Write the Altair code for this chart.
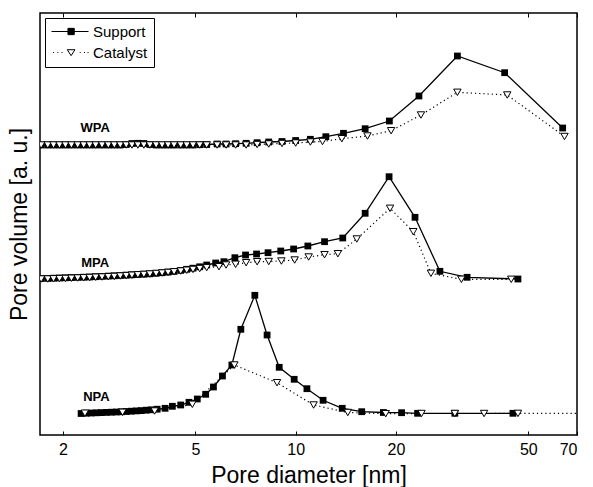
import altair as alt
import pandas as pd

# ---------------- data (pore diameter in nm, pore volume in a.u.) ----------------
dense_d = [1.72, 1.80, 1.873, 1.952, 2.034, 2.12, 2.214, 2.308, 2.405, 2.507,
           2.62, 2.736, 2.852, 2.972, 3.097, 3.222, 3.357, 3.499, 3.648, 3.809,
           3.97, 4.138, 4.312, 4.516, 4.707, 4.916, 5.149, 5.404]

wpa_sup_d = dense_d + [5.81, 6.18, 6.60, 7.10, 7.66, 8.30, 9.10, 10.0, 11.07, 12.32,
                       13.92, 16.17, 19.12, 23.46, 30.61, 42.44, 63.4]
wpa_sup_v = [290, 290, 290, 290, 290, 290, 290, 290, 290, 290,
             290, 290, 290, 290, 290.5, 291.5, 291.7, 291.5, 290.5, 290,
             290, 290, 290, 290, 290, 290, 290.3, 290.5,
             291, 291, 291.3, 291.7, 292.3, 293, 293.5, 294.5, 295.7, 298.3,
             301.7, 306.3, 314, 339, 379, 362.3, 307]

wpa_cat_d = dense_d + [5.81, 6.18, 6.60, 7.10, 7.66, 8.30, 9.10, 10.0, 11.07, 12.04,
                       13.76, 16.43, 19.35, 23.79, 30.61, 43.21, 64.2]
wpa_cat_v = [290] * 28 + [290, 290, 290, 290, 290.5, 291, 291.5, 292, 293, 293.5,
                          296.3, 299, 304.3, 320, 342.7, 340, 298.5]

mpa_sup_d = dense_d + [5.75, 6.088, 6.568, 7.07, 7.63, 8.26, 9.02, 9.86, 10.88, 12.21,
                       13.85, 16.17, 19.08, 22.83, 27.12, 32.73, 46.53]
mpa_sup_v = [156.5, 156.6, 156.8, 157, 157.2, 157.4, 157.6, 157.8, 158, 158.3,
             158.6, 158.9, 159.2, 159.5, 159.8, 160.2, 160.5, 160.8, 161.2, 161.7,
             162.3, 162.9, 163.6, 164.6, 165.7, 166.8, 168.2, 170,
             172, 173.3, 177.3, 180, 181, 182.3, 184, 186, 189, 193.3,
             197, 221.7, 258.3, 217.7, 163.7, 157.7, 156]

mpa_cat_d = dense_d + [5.883, 6.18, 6.60, 7.10, 7.66, 8.30, 9.06, 9.93, 10.94, 12.21,
                       13.39, 15.26, 19.21, 22.56, 25.49, 31.47, 44.42]
mpa_cat_v = [156, 156, 156.2, 156.4, 156.6, 156.8, 157, 157.2, 157.5, 157.8,
             158, 158.3, 158.6, 159, 159.4, 159.8, 160.2, 160.6, 161, 161.5,
             162, 162.6, 163.2, 164, 164.8, 165.6, 166.5, 167.4,
             168.3, 170, 170.7, 172.3, 173.3, 173.5, 174, 175, 178, 180.3,
             181.3, 196, 226.7, 203.3, 161.7, 155.7, 155.7]

npa_sup_d = [2.267, 2.351, 2.433, 2.519, 2.607, 2.698, 2.793, 2.891, 2.992, 3.097,
             3.206, 3.319, 3.435, 3.556, 3.681, 3.836, 4.053, 4.262, 4.516, 4.782,
             5.064, 5.366, 5.662, 6.026, 6.432, 6.844, 7.539, 8.206, 8.925, 9.897,
             10.81, 12.09, 13.80, 15.79, 18.34, 20.81, 23.24, 30.07, 44.94]
npa_sup_v = [21.5, 21.8, 22, 22.2, 22.4, 22.6, 22.8, 23, 23.2, 23.5,
             23.8, 24.1, 24.4, 24.8, 25.2, 25.8, 26.7, 28.7, 30, 32.7,
             36, 40.7, 48, 59, 70, 105.7, 139.7, 100, 67.7, 55.7,
             46.3, 34.7, 26.7, 23.3, 22.5, 22.3, 21.7, 21.7, 21.7]

npa_cat_d = [2.327, 3.019, 3.770, 4.893, 6.544, 8.790, 11.32, 14.34, 18.64, 23.88,
             30.07, 36.81, 46.53, 85.0]
npa_cat_v = [21.8, 22.7, 24, 30.7, 70, 52.3, 30, 22.5, 21.3, 21.5,
             21.5, 21.5, 21.6, 21.7]

label_names = ["WPA", "MPA", "NPA"]
label_d = [2.50, 2.50, 2.52]
label_v = [307, 172.5, 38.3]

series_names = ["Support", "Catalyst"]
x_ticks = [2, 5, 10, 20, 50, 70]

# ---------------- tables ----------------
rows = []
for sample, series, ds, vs in [
    ("WPA", "Support", wpa_sup_d, wpa_sup_v),
    ("WPA", "Catalyst", wpa_cat_d, wpa_cat_v),
    ("MPA", "Support", mpa_sup_d, mpa_sup_v),
    ("MPA", "Catalyst", mpa_cat_d, mpa_cat_v),
    ("NPA", "Support", npa_sup_d, npa_sup_v),
    ("NPA", "Catalyst", npa_cat_d, npa_cat_v),
]:
    for d, v in zip(ds, vs):
        rows.append({"sample": sample, "series": series, "d": d, "v": v})
df = pd.DataFrame(rows)
labels_df = pd.DataFrame({"name": label_names, "d": label_d, "v": label_v})

FONT = "Liberation Sans"
xscale = alt.Scale(type="log", domain=[1.706, 70], nice=False)
yscale = alt.Scale(domain=[0, 422], nice=False, zero=False)

x_bottom = alt.X("d:Q", scale=xscale, axis=alt.Axis(
    orient="bottom", values=x_ticks, format="d", domain=False, grid=False,
    tickSize=4, offset=-4, tickColor="black", tickWidth=1,
    labelFont=FONT, labelFontSize=16, labelColor="black", labelPadding=6,
    title="Pore diameter [nm]", titleFont=FONT, titleFontSize=23,
    titleFontWeight="normal", titleColor="black", titlePadding=7))
x_top = alt.X("d:Q", scale=xscale, axis=alt.Axis(
    orient="top", values=x_ticks, domain=False, grid=False, labels=False,
    tickSize=4, offset=-4, tickColor="black", tickWidth=1, title=None))
x_none = alt.X("d:Q", scale=xscale, axis=None)
y_enc = alt.Y("v:Q", scale=yscale, axis=alt.Axis(
    labels=False, ticks=False, domain=False, grid=False,
    title="Pore volume [a. u.]", titleFont=FONT, titleFontSize=23,
    titleFontWeight="normal", titleColor="black", titlePadding=9))

base = alt.Chart(df)
sup = base.transform_filter("datum.series == 'Support'")
cat = base.transform_filter("datum.series == 'Catalyst'")

sup_line = sup.mark_line(color="black", strokeWidth=1.3, clip=True).encode(
    x=x_bottom, y=y_enc, detail="sample:N")
sup_pts = sup.mark_point(shape="square", filled=True, color="black", size=46,
                         opacity=1, clip=True).encode(x=x_none, y=y_enc)
cat_line = cat.mark_line(color="black", strokeWidth=1.2, strokeDash=[1.2, 3],
                         clip=True).encode(x=x_none, y=y_enc, detail="sample:N")
cat_pts = cat.mark_point(shape="triangle-down", filled=True, fill="white",
                         stroke="black", strokeWidth=1, size=55, opacity=1,
                         clip=True).encode(x=x_none, y=y_enc)

texts = alt.Chart(labels_df).mark_text(font=FONT, fontSize=13, fontWeight="bold",
                                       color="black", align="center",
                                       baseline="middle").encode(
    x=x_none, y=y_enc, text="name:N")

# legend symbols: line segment + marker, drawn as custom symbol paths
sup_path = "M-1,0L4.29,0M1.35,-0.45L2.25,-0.45L2.25,0.45L1.35,0.45Z"
cat_path = ("M-0.78,0L-0.64,0M-0.17,0L-0.03,0M0.43,0L0.57,0"
            "M1.25,-0.4L2.35,-0.4L1.8,0.45Z"
            "M3.03,0L3.17,0M3.64,0L3.78,0M4.15,0L4.29,0")
leg = alt.Legend(title=None, orient="top-left", offset=5, padding=6,
                 strokeColor="black", fillColor="white", rowPadding=5,
                 labelFont=FONT, labelFontSize=15, labelColor="black",
                 labelOffset=27, symbolSize=196, symbolStrokeColor="black",
                 symbolStrokeWidth=1)
legend_layer = base.transform_filter("datum.v < -1000").mark_point(
    filled=False, strokeWidth=1, size=196, opacity=1).encode(
    x=x_top, y=y_enc,
    shape=alt.Shape("series:N", scale=alt.Scale(domain=series_names,
                                                range=[sup_path, cat_path]),
                    legend=leg),
    fill=alt.Fill("series:N", scale=alt.Scale(domain=series_names,
                                              range=["black", "white"]),
                  legend=leg),
    stroke=alt.Stroke("series:N", scale=alt.Scale(domain=series_names,
                                                  range=["black", "black"]),
                      legend=leg),
)

chart = alt.layer(sup_line, sup_pts, cat_line, cat_pts, texts, legend_layer).resolve_axis(
    x="independent").properties(
    width=537, height=422,
    autosize=alt.AutoSizeParams(type="none"),
    padding={"left": 40, "top": 13, "right": 16, "bottom": 52},
    background="white",
).configure_view(stroke="black", strokeWidth=1.5)

chart.save("out.html", embed_options={"renderer": "svg", "actions": False})
